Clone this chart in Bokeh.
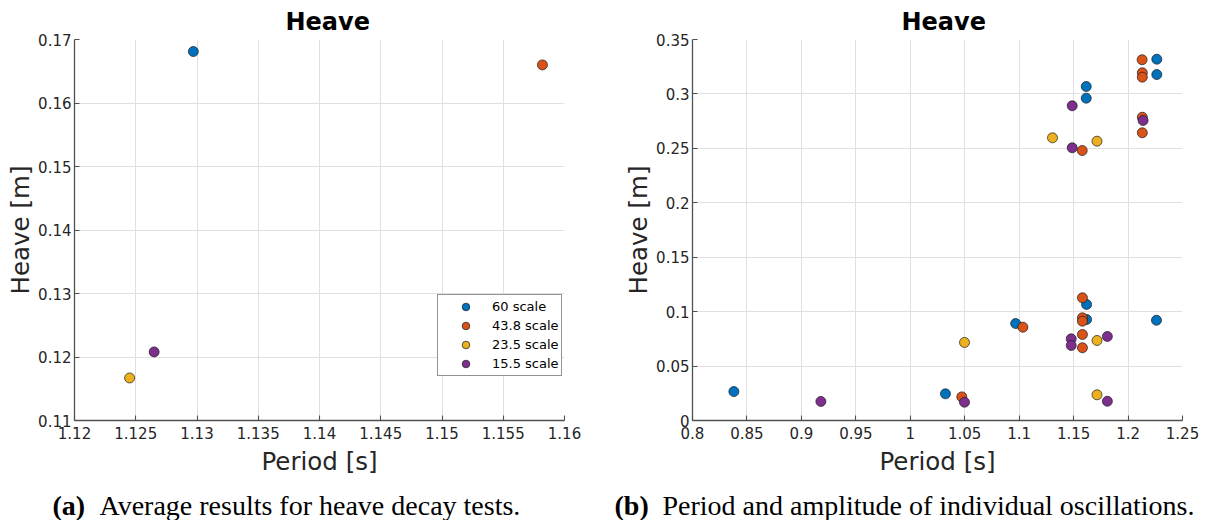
from bokeh.plotting import figure
from bokeh.layouts import column, row
from bokeh.models import (FixedTicker, Legend, LegendItem, Range1d,
                          CustomJSTickFormatter)
from bokeh.embed import file_html
from bokeh.resources import INLINE
from bokeh.core.properties import value

# ---------------------------------------------------------------- data
scale_names = ["60 scale", "43.8 scale", "23.5 scale", "15.5 scale"]
scale_colors = ["#0072BD", "#D95319", "#EDB120", "#7E2F8E"]

# (a) averaged decay-test result, one point per model scale
avg_period = [1.1297, 1.1582, 1.1245, 1.1265]
avg_heave = [0.1681, 0.1660, 0.1167, 0.1208]

# (b) period and amplitude of each individual oscillation
osc_period_60 = [0.8380, 1.0323, 1.0968, 1.1616, 1.1616, 1.1619, 1.1619, 1.2264, 1.2264, 1.2261]
osc_heave_60 = [0.0266, 0.0245, 0.0891, 0.3068, 0.2961, 0.1066, 0.0928, 0.3319, 0.3178, 0.0921]

osc_period_438 = [1.0473, 1.1034, 1.1579, 1.1581, 1.1581, 1.1581, 1.1581, 1.1581,
                  1.2129, 1.2131, 1.2131, 1.2131, 1.2131]
osc_heave_438 = [0.0217, 0.0857, 0.2480, 0.1127, 0.0943, 0.0912, 0.0790, 0.0668,
                 0.3314, 0.3194, 0.3154, 0.2786, 0.2643]

osc_period_235 = [1.0498, 1.1306, 1.1715, 1.1715, 1.1715]
osc_heave_235 = [0.0717, 0.2597, 0.2566, 0.0735, 0.0236]

osc_period_155 = [0.9179, 1.0498, 1.1487, 1.1487, 1.1478, 1.1478, 1.1810, 1.1810, 1.2138]
osc_heave_155 = [0.0175, 0.0168, 0.2891, 0.2505, 0.0750, 0.0689, 0.0772, 0.0177, 0.2756]

# axis ticks and their labels
a_x_ticks = [1.12, 1.125, 1.13, 1.135, 1.14, 1.145, 1.15, 1.155, 1.16]
a_x_labels = ["1.12", "1.125", "1.13", "1.135", "1.14", "1.145", "1.15", "1.155", "1.16"]
a_y_ticks = [0.11, 0.12, 0.13, 0.14, 0.15, 0.16, 0.17]
a_y_labels = ["0.11", "0.12", "0.13", "0.14", "0.15", "0.16", "0.17"]

b_x_ticks = [0.8, 0.85, 0.9, 0.95, 1.0, 1.05, 1.1, 1.15, 1.2, 1.25]
b_x_labels = ["0.8", "0.85", "0.9", "0.95", "1", "1.05", "1.1", "1.15", "1.2", "1.25"]
b_y_ticks = [0.0, 0.05, 0.1, 0.15, 0.2, 0.25, 0.3, 0.35]
b_y_labels = ["0", "0.05", "0.1", "0.15", "0.2", "0.25", "0.3", "0.35"]

caption_a_tag = "(a)"
caption_a_text = "Average results for heave decay tests."
caption_b_tag = "(b)"
caption_b_text = "Period and amplitude of individual oscillations."

# ---------------------------------------------------------------- style
FONT = "DejaVu Sans"
TEXT_COLOR = "#262626"
AXIS_COLOR = "#505050"
GRID_COLOR = "#e0e0e0"


def label_formatter(tick_values, tick_labels):
    return CustomJSTickFormatter(
        args=dict(tick_values=tick_values, tick_labels=tick_labels),
        code="""
        for (let i = 0; i < tick_values.length; i++) {
            if (Math.abs(tick_values[i] - tick) < 1e-9) return tick_labels[i];
        }
        return "";
    """)


def make_axes(x_range, y_range, x_ticks, x_labels, y_ticks, y_labels,
              border_left, border_right, title_offset):
    p = figure(width=border_left + 490 + border_right, height=478,
               x_range=x_range, y_range=y_range,
               output_backend="svg", toolbar_location=None,
               min_border_left=border_left, min_border_right=border_right,
               min_border_top=39, min_border_bottom=58)
    p.outline_line_color = None
    p.background_fill_color = "white"
    p.border_fill_color = "white"

    p.title.text = "Heave"
    p.title.align = "left"
    p.title.offset = title_offset
    p.title.text_font = FONT
    p.title.text_font_size = "24px"
    p.title.text_font_style = "bold"
    p.title.text_color = "black"
    p.title.standoff = 8

    xt = FixedTicker(ticks=x_ticks)
    yt = FixedTicker(ticks=y_ticks)
    p.xaxis.ticker = xt
    p.yaxis.ticker = yt
    p.xgrid.ticker = xt
    p.ygrid.ticker = yt
    p.xaxis.formatter = label_formatter(x_ticks, x_labels)
    p.yaxis.formatter = label_formatter(y_ticks, y_labels)

    p.xaxis.axis_label = "Period [s]"
    p.yaxis.axis_label = "Heave [m]"
    for ax in (p.xaxis, p.yaxis):
        ax.axis_line_color = AXIS_COLOR
        ax.axis_line_width = 1.3
        ax.major_tick_line_color = AXIS_COLOR
        ax.major_tick_line_width = 1.1
        ax.major_tick_in = 5
        ax.major_tick_out = 0
        ax.minor_tick_line_color = None
        ax.major_label_text_font = FONT
        ax.major_label_text_font_size = "15px"
        ax.major_label_text_color = TEXT_COLOR
        ax.axis_label_text_font = FONT
        ax.axis_label_text_font_size = "24.5px"
        ax.axis_label_text_font_style = "normal"
        ax.axis_label_text_color = TEXT_COLOR
    p.xaxis.major_label_standoff = 6
    p.yaxis.major_label_standoff = 3
    p.xaxis.axis_label_standoff = 5
    p.yaxis.axis_label_standoff = 0

    p.grid.grid_line_color = GRID_COLOR
    p.grid.grid_line_width = 1
    return p


def add_points(p, xs, ys, color):
    return p.scatter(xs, ys, marker="circle", size=10,
                     fill_color=color, line_color="#1a1a1a", line_width=0.7)


# ---------------------------------------------------------------- panel (a)
pa = make_axes(Range1d(1.12, 1.16), Range1d(0.11, 0.17),
               a_x_ticks, a_x_labels, a_y_ticks, a_y_labels, 74, 39, 211)
items = []
for i, name in enumerate(scale_names):
    r = add_points(pa, [avg_period[i]], [avg_heave[i]], scale_colors[i])
    items.append(LegendItem(label=name, renderers=[r]))

# legend kept fully inside the plot area so its labels are not clipped
legend = Legend(items=items, location=(363, 44),
                padding=2, margin=0, spacing=0,
                glyph_width=51, glyph_height=19, label_height=19,
                label_standoff=1,
                label_text_font=FONT, label_text_font_size="13px",
                label_text_color="black",
                border_line_color="#262626", border_line_width=1,
                background_fill_color="white", background_fill_alpha=1)
pa.add_layout(legend)

# ---------------------------------------------------------------- panel (b)
pb = make_axes(Range1d(0.8, 1.25), Range1d(0.0, 0.35),
               b_x_ticks, b_x_labels, b_y_ticks, b_y_labels, 89, 24, 209)
add_points(pb, osc_period_60, osc_heave_60, scale_colors[0])
add_points(pb, osc_period_438, osc_heave_438, scale_colors[1])
add_points(pb, osc_period_235, osc_heave_235, scale_colors[2])
add_points(pb, osc_period_155, osc_heave_155, scale_colors[3])

# ---------------------------------------------------------------- captions
cap = figure(width=1206, height=42, x_range=Range1d(0, 1206), y_range=Range1d(0, 42),
             output_backend="svg", toolbar_location=None, min_border=0)
cap.axis.visible = False
cap.grid.visible = False
cap.outline_line_color = None

SERIF = value("Liberation Serif")
cap.text(x=[52, 614], y=[15, 15], text=[caption_a_tag, caption_b_tag],
         text_font=SERIF, text_font_size="28px", text_font_style="bold",
         text_baseline="middle", text_align="left", text_color="black")
cap.text(x=[99, 662], y=[15, 15], text=[caption_a_text, caption_b_text],
         text_font=SERIF, text_font_size="28px",
         text_baseline="middle", text_align="left", text_color="black")

layout = column(row(pa, pb, spacing=0), cap, spacing=0)
open("out.html", "w").write(file_html(layout, INLINE))
